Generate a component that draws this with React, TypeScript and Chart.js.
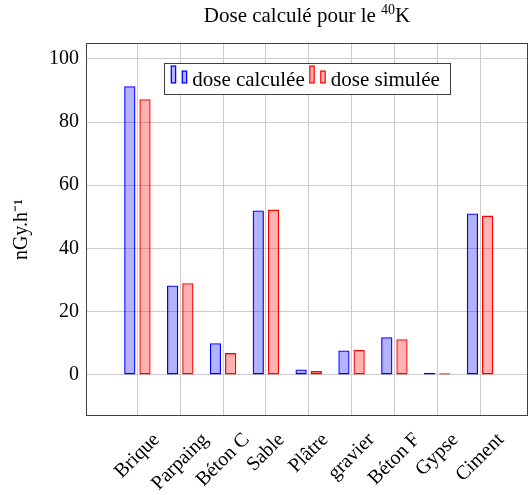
import React, { useEffect, useRef } from "react";
import { Chart, registerables } from "chart.js";

Chart.register(...registerables);

const categories = ["Brique", "Parpaing", "Béton C", "Sable", "Plâtre", "gravier", "Béton F", "Gypse", "Ciment"];
const doseCalculee = [91.3, 28.3, 10.0, 52.0, 1.7, 7.7, 11.9, 0.7, 51.1];
const doseSimulee = [87.2, 29.0, 6.9, 52.3, 1.2, 7.9, 11.3, 0.5, 50.4];
const yTicks = [0, 20, 40, 60, 80, 100];
const seriesLabels = ["dose calculée", "dose simulée"];
const titleMain = "Dose calculé pour le ";
const titleSup = "40";
const titleEnd = "K";
const yTitle = "nGy.h⁻¹";

const FONT = '"Liberation Serif", "Times New Roman", serif';
const FS = 20;
const FS_BIG = 21;

const titlePlugin = {
  id: "customTitle",
  afterDraw(chart: any) {
    const { ctx, chartArea } = chart;
    ctx.save();
    ctx.fillStyle = "#000";
    ctx.textBaseline = "alphabetic";
    ctx.textAlign = "left";
    const supFS = 14;
    ctx.font = `${FS_BIG}px ${FONT}`;
    const w1 = ctx.measureText(titleMain).width;
    const w3 = ctx.measureText(titleEnd).width;
    ctx.font = `${supFS}px ${FONT}`;
    const w2 = ctx.measureText(titleSup).width;
    const total = w1 + w2 + w3;
    const cx = (chartArea.left + chartArea.right) / 2;
    let x = cx - total / 2;
    const base = 22;
    ctx.font = `${FS_BIG}px ${FONT}`;
    ctx.fillText(titleMain, x, base);
    x += w1;
    ctx.font = `${supFS}px ${FONT}`;
    ctx.fillText(titleSup, x, base - 8);
    x += w2;
    ctx.font = `${FS_BIG}px ${FONT}`;
    ctx.fillText(titleEnd, x, base);
    ctx.restore();
  },
};

const framePlugin = {
  id: "frame",
  afterDraw(chart: any) {
    const { ctx, chartArea } = chart;
    ctx.save();
    ctx.strokeStyle = "#404040";
    ctx.lineWidth = 1;
    ctx.strokeRect(chartArea.left + 0.5, chartArea.top + 0.5, chartArea.right - chartArea.left - 1, chartArea.bottom - chartArea.top - 1);
    ctx.restore();
  },
};

const xLabelPlugin = {
  id: "xLabels",
  afterDraw(chart: any) {
    const { ctx, chartArea, scales } = chart;
    const xs = scales.x;
    ctx.save();
    ctx.font = `${FS}px ${FONT}`;
    ctx.fillStyle = "#000";
    ctx.textAlign = "center";
    ctx.textBaseline = "middle";
    const top = chartArea.bottom + 15;
    categories.forEach((c, i) => {
      const x = xs.getPixelForValue(i);
      const L = ctx.measureText(c).width;
      const H = FS * 0.8;
      const cy = top + (0.7071 * (L + H)) / 2;
      ctx.save();
      ctx.translate(x, cy);
      ctx.rotate(-Math.PI / 4);
      ctx.fillText(c, 0, 0);
      ctx.restore();
    });
    ctx.restore();
  },
};

const legendPlugin = {
  id: "customLegend",
  afterDraw(chart: any) {
    const { ctx, chartArea } = chart;
    const ds = chart.data.datasets;
    ctx.save();
    ctx.font = `${FS_BIG}px ${FONT}`;
    const rectW = 5.5;
    const iconW = 16.5;
    const iconGap = 5;
    const itemGap = 4.5;
    const padL = 6.5;
    const padR = 10;
    const widths = ds.map((d: any) => ctx.measureText(d.label).width);
    let total = padL + padR;
    widths.forEach((w: number, i: number) => {
      total += iconW + iconGap + w + (i < widths.length - 1 ? itemGap : 0);
    });
    const boxTop = chartArea.top + 20;
    const boxH = 31;
    const cx = (chartArea.left + chartArea.right) / 2;
    const boxLeft = cx - total / 2;
    ctx.fillStyle = "#fff";
    ctx.fillRect(boxLeft, boxTop, total, boxH);
    ctx.strokeStyle = "#404040";
    ctx.lineWidth = 1;
    ctx.strokeRect(Math.round(boxLeft) + 0.5, Math.round(boxTop) + 0.5, Math.round(total), boxH);
    let x = boxLeft + padL;
    const bottom = boxTop + 20.5;
    ds.forEach((d: any, i: number) => {
      ctx.fillStyle = d.backgroundColor;
      ctx.strokeStyle = d.borderColor;
      ctx.lineWidth = 1.2;
      const h1 = 18;
      const h2 = 13;
      ctx.fillRect(x, bottom - h1, rectW, h1);
      ctx.strokeRect(x + 0.6, bottom - h1 + 0.6, rectW - 1.2, h1 - 1.2);
      const x2 = x + iconW - rectW;
      ctx.fillRect(x2, bottom - h2, rectW, h2);
      ctx.strokeRect(x2 + 0.6, bottom - h2 + 0.6, rectW - 1.2, h2 - 1.2);
      x += iconW + iconGap;
      ctx.fillStyle = "#000";
      ctx.textAlign = "left";
      ctx.textBaseline = "alphabetic";
      ctx.fillText(d.label, x, boxTop + 22.5);
      x += widths[i] + itemGap;
    });
    ctx.restore();
  },
};

export default function App() {
  const canvasRef = useRef<HTMLCanvasElement | null>(null);

  useEffect(() => {
    const canvas = canvasRef.current;
    if (!canvas) return;
    const chart = new Chart(canvas, {
      type: "bar",
      data: {
        datasets: [
          {
            label: seriesLabels[0],
            data: doseCalculee.map((v, i) => ({ x: i, y: v })),
            backgroundColor: "rgba(0,0,255,0.3)",
            borderColor: "#0000ff",
            borderWidth: 1.3,
            borderSkipped: false,
            categoryPercentage: 0.71,
            barPercentage: 0.74,
          },
          {
            label: seriesLabels[1],
            data: doseSimulee.map((v, i) => ({ x: i, y: v })),
            backgroundColor: "rgba(255,0,0,0.3)",
            borderColor: "#ff0000",
            borderWidth: 1.3,
            borderSkipped: false,
            categoryPercentage: 0.71,
            barPercentage: 0.74,
          },
        ] as any,
      },
      options: {
        responsive: false,
        animation: false,
        devicePixelRatio: 1,
        layout: { padding: { top: 43, right: 1, left: 0, bottom: 0 } },
        plugins: {
          legend: { display: false },
          title: { display: false },
          tooltip: { enabled: false },
        },
        scales: {
          x: {
            type: "linear",
            min: -1.2,
            max: 9.12,
            offset: false,
            grid: { color: "#cccccc", lineWidth: 1, drawTicks: false, offset: false },
            border: { display: false },
            ticks: { display: false },
            afterBuildTicks: (scale: any) => {
              scale.ticks = categories.map((_, i) => ({ value: i }));
            },
            afterFit: (scale: any) => {
              scale.height = 79;
            },
          },
          y: {
            type: "linear",
            min: -13,
            max: 105,
            grid: { color: "#cccccc", lineWidth: 1, drawTicks: false },
            border: { display: false },
            ticks: {
              padding: 7,
              color: "#000",
              font: { family: FONT, size: FS },
            },
            afterBuildTicks: (scale: any) => {
              scale.ticks = yTicks.map((v) => ({ value: v }));
            },
            title: {
              display: true,
              text: yTitle,
              color: "#000",
              font: { family: FONT, size: FS },
              padding: { top: 10, bottom: 0 },
            },
            afterFit: (scale: any) => {
              scale.width = 86;
            },
          },
        },
      } as any,
      plugins: [framePlugin, titlePlugin, xLabelPlugin, legendPlugin],
    });
    return () => chart.destroy();
  }, []);

  return (
    <div style={{ position: "absolute", left: 0, top: 0, width: 529, height: 495, background: "#fff" }}>
      <canvas ref={canvasRef} width={529} height={495} style={{ width: 529, height: 495, display: "block" }} />
    </div>
  );
}
